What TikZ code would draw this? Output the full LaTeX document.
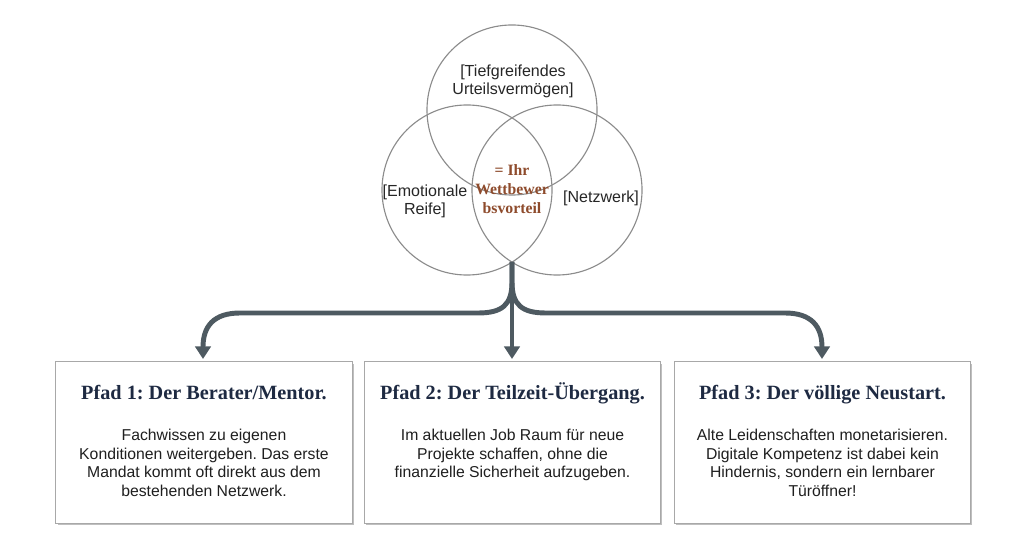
\documentclass[tikz,border=0pt]{standalone}
\usepackage{fontspec}
\setmainfont{Liberation Serif}
\setsansfont{Liberation Sans}
\usetikzlibrary{arrows.meta,shadows}
\definecolor{arrowc}{HTML}{4E5A61}
\definecolor{navy}{HTML}{1E2A42}
\definecolor{brownc}{HTML}{8E4B2C}
\definecolor{circc}{HTML}{8C8C8C}
\definecolor{boxc}{HTML}{A8A8A8}
\frenchspacing
\tikzset{
  venn/.style={draw=circc, line width=0.8pt, circle, minimum size=4.25cm, inner sep=0pt},
  vlabel/.style={font=\sffamily\fontsize{11.4}{12.9}\selectfont, align=center, text=black!85, inner sep=0pt},
  core/.style={font=\rmfamily\bfseries\fontsize{11.2}{13.6}\selectfont, align=center, text=brownc, inner sep=0pt},
  pathbox/.style={draw=boxc, line width=0.7pt, fill=white, minimum width=7.4cm, minimum height=4.025cm, inner sep=0pt,
    drop shadow={shadow xshift=1.2pt, shadow yshift=-1.2pt, opacity=0.25, fill=black}},
  ptitle/.style={font=\rmfamily\bfseries\fontsize{14.4}{16}\selectfont, text=navy, inner sep=0pt, anchor=base},
  pbody/.style={font=\sffamily\fontsize{11.2}{13.2}\selectfont, align=center, text=black!88, inner sep=0pt, anchor=north},
  arr/.style={draw=arrowc, line width=3.5pt, -{Triangle[width=11pt,length=9pt]}}
}
\begin{document}
\begin{tikzpicture}[x=0.025cm,y=-0.025cm]
\useasboundingbox[fill=white] (0,0) rectangle (1024,556);

% Venn circles
\node[venn] (ctop) at (512,110) {};
\node[venn] (cleft) at (467,190) {};
\node[venn] (cright) at (557,190) {};

\node[vlabel] (ltop) at (513,81) {[Tiefgreifendes\\Urteilsvermögen]};
\node[vlabel] (lleft) at (425,201) {[Emotionale\\Reife]};
\node[vlabel] (lright) at (601,198) {[Netzwerk]};
\node[core] (lcore) at (512,189) {= Ihr\\Wettbewer\\bsvorteil};

% Boxes
\node[pathbox] (b1) at (204,442.5) {};
\node[pathbox] (b2) at (512.5,442.5) {};
\node[pathbox] (b3) at (822.5,442.5) {};

\node[ptitle] (t1) at (204,399) {Pfad 1: Der Berater/Mentor.};
\node[ptitle] (t2) at (512.5,399) {Pfad 2: Der Teilzeit-Übergang.};
\node[ptitle] (t3) at (822.5,399) {Pfad 3: Der völlige Neustart.};

\node[pbody] (d1) at (204,429) {Fachwissen zu eigenen\\Konditionen weitergeben. Das erste\\Mandat kommt oft direkt aus dem\\bestehenden Netzwerk.};
\node[pbody] (d2) at (512.5,429) {Im aktuellen Job Raum für neue\\Projekte schaffen, ohne die\\finanzielle Sicherheit aufzugeben.};
\node[pbody] (d3) at (822.5,429) {Alte Leidenschaften monetarisieren.\\Digitale Kompetenz ist dabei kein\\Hindernis, sondern ein lernbarer\\Türöffner!};

% Connectors
\coordinate (j) at (512,262);
\coordinate (e1) at (203,359);
\coordinate (e2) at (512,359);
\coordinate (e3) at (822,359);

\draw[arr] (j) -- (e2);
\draw[arr] (j) -- (512,282) .. controls (512,305) and (502,313) .. (478,313)
  -- (240,313) .. controls (214,313) and (203,326) .. (e1);
\draw[arr] (j) -- (512,282) .. controls (512,305) and (522,313) .. (546,313)
  -- (785,313) .. controls (811,313) and (822,326) .. (e3);
\end{tikzpicture}
\end{document}
